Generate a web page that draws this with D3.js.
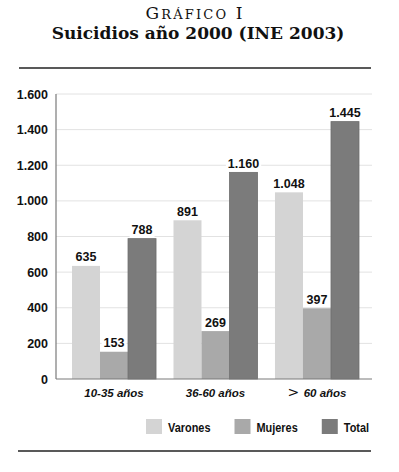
<!DOCTYPE html>
<html>
<head>
<meta charset="utf-8">
<script src="https://cdn.jsdelivr.net/npm/d3@7"></script>
<style>
  body { margin: 0; background: #fff; }
  svg { display: block; }
</style>
</head>
<body>
<svg id="chart" width="399" height="472"></svg>
<script>
// data
var categories = ['10-35 años', '36-60 años', '> 60 años'];
var series = ['Varones', 'Mujeres', 'Total'];
var varones = [635, 891, 1048];
var mujeres = [153, 269, 397];
var total = [788, 1160, 1445];
var yTicks = [0, 200, 400, 600, 800, 1000, 1200, 1400, 1600];
var colors = ['#d4d4d4', '#a9a9a9', '#7b7b7b'];

var values = [varones, mujeres, total];
var fmt = function(v) { return d3.format(',')(v).replace(/,/g, '.'); };

const svg = d3.select('#chart');
const numFont = '"Liberation Sans", Arial, sans-serif';

// title
var t1 = svg.append('text')
  .attr('x', 194).attr('y', 18.5)
  .attr('text-anchor', 'middle')
  .style('font-family', '"DejaVu Serif", serif')
  .style('fill', '#111');
t1.append('tspan').style('font-size', '17px').text('G');
t1.append('tspan').style('font-size', '13px').text('RÁFICO');
t1.append('tspan').style('font-size', '17px').text(' I');
t1.attr('textLength', 97).attr('lengthAdjust', 'spacing');

svg.append('text')
  .attr('x', 198).attr('y', 38.5)
  .attr('text-anchor', 'middle')
  .style('font-family', '"DejaVu Serif", serif')
  .style('font-weight', 'bold')
  .style('font-size', '17px')
  .style('fill', '#111')
  .text('Suicidios año 2000 (INE 2003)');

svg.append('line')
  .attr('x1', 19).attr('x2', 371).attr('y1', 68).attr('y2', 68)
  .style('stroke', '#222').style('stroke-width', 1.6);

svg.append('line')
  .attr('x1', 18).attr('x2', 371).attr('y1', 451).attr('y2', 451)
  .style('stroke', '#222').style('stroke-width', 1.6);

// plot area
var plotLeft = 56, plotRight = 372;
var y = d3.scaleLinear().domain([0, 1600]).range([379, 94]);
var x0 = d3.scaleBand().domain(categories).range([72, 359]).paddingInner(0.172);
var x1 = d3.scaleBand().domain(series).range([0, x0.bandwidth()]);

// gridlines
svg.append('g').selectAll('line')
  .data(yTicks.filter(d => d > 0))
  .enter().append('line')
  .attr('x1', plotLeft).attr('x2', plotRight)
  .attr('y1', d => y(d)).attr('y2', d => y(d))
  .style('stroke', '#e2e2e2').style('stroke-width', 1);

// y labels
svg.append('g').selectAll('text')
  .data(yTicks)
  .enter().append('text')
  .attr('x', 48).attr('y', d => y(d) + 4.5)
  .attr('text-anchor', 'end')
  .style('font-family', numFont)
  .style('font-weight', 'bold')
  .style('font-size', '12.5px')
  .style('fill', '#111')
  .text(fmt);

// bars
var flat = [];
categories.forEach(function(c, i) {
  series.forEach(function(s, j) {
    flat.push({cat: c, ser: s, j: j, v: values[j][i]});
  });
});

svg.append('g').selectAll('rect')
  .data(flat)
  .enter().append('rect')
  .attr('x', d => x0(d.cat) + x1(d.ser))
  .attr('y', d => y(d.v))
  .attr('width', x1.bandwidth())
  .attr('height', d => y(0) - y(d.v))
  .style('fill', d => colors[d.j])
  .style('stroke', d => d.j === 2 ? '#6e6e6e' : 'none')
  .style('stroke-width', 0.8);

// axes lines
svg.append('line')
  .attr('x1', plotLeft).attr('x2', plotLeft).attr('y1', y(1600)).attr('y2', y(0))
  .style('stroke', '#7a7a7a').style('stroke-width', 1.2);
svg.append('line')
  .attr('x1', plotLeft).attr('x2', plotRight).attr('y1', y(0)).attr('y2', y(0))
  .style('stroke', '#7a7a7a').style('stroke-width', 1.2);

// value labels with white box
var lab = svg.append('g').selectAll('g')
  .data(flat)
  .enter().append('g');
lab.append('rect').attr('class', 'bg');
lab.append('text')
  .attr('x', d => x0(d.cat) + x1(d.ser) + x1.bandwidth() / 2)
  .attr('y', d => y(d.v) - 4.5)
  .attr('text-anchor', 'middle')
  .style('font-family', numFont)
  .style('font-weight', 'bold')
  .style('font-size', '12.5px')
  .style('fill', '#111')
  .text(d => fmt(d.v));
lab.each(function() {
  var g = d3.select(this);
  var bb = g.select('text').node().getBBox();
  g.select('rect.bg')
    .attr('x', bb.x - 2).attr('y', bb.y)
    .attr('width', bb.width + 4).attr('height', bb.height)
    .style('fill', '#fff');
});

// category labels
var cl = svg.append('g').selectAll('text')
  .data(categories)
  .enter().append('text')
  .attr('x', d => x0(d) + x0.bandwidth() / 2)
  .attr('y', 397)
  .attr('text-anchor', 'middle')
  .style('font-family', numFont)
  .style('font-size', '11.5px')
  .style('fill', '#111');
cl.each(function(d) {
  var t = d3.select(this);
  if (d.charAt(0) === '>') {
    t.append('tspan').style('font-family', '"DejaVu Sans", sans-serif')
      .style('font-weight', 'normal').style('font-size', '14px').text('> ');
    t.append('tspan').style('font-weight', 'bold').style('font-style', 'italic').text(d.slice(2));
  } else {
    t.append('tspan').style('font-weight', 'bold').style('font-style', 'italic').text(d);
  }
});

// legend (condensed bold text squeezed to fit)
var lx = 146;
series.forEach(function(s, j) {
  svg.append('rect')
    .attr('x', lx).attr('y', 419).attr('width', 16).attr('height', 15)
    .style('fill', colors[j]);
  var t = svg.append('text')
    .attr('x', lx + 22).attr('y', 431.5)
    .style('font-family', numFont)
    .style('font-weight', 'bold')
    .style('font-size', '13px')
    .style('fill', '#111')
    .text(s);
  var w = t.node().getComputedTextLength() * 0.84;
  t.attr('textLength', w).attr('lengthAdjust', 'spacingAndGlyphs');
  lx += 22 + w + 24;
});
</script>
</body>
</html>
